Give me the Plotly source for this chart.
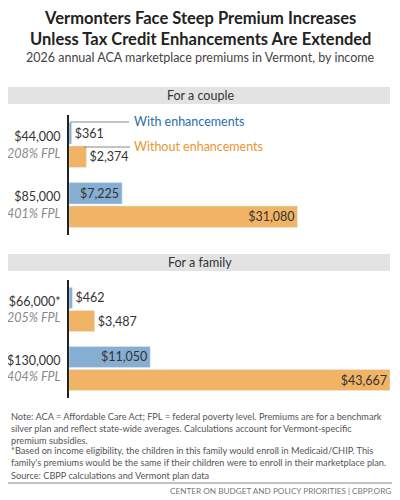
import plotly.graph_objects as go

# couple
couple_incomes = ["$44,000", "$85,000"]
couple_fpl = ["208% FPL", "401% FPL"]
couple_with = [361, 7225]
couple_without = [2374, 31080]
# family
family_incomes = ["$66,000*", "$130,000"]
family_fpl = ["205% FPL", "404% FPL"]
family_with = [462, 11050]
family_without = [3487, 43667]

BLUE = "#86aed3"
ORANGE = "#f1b366"
TXT = "#333333"
FONT = "Lato"

# page body has an 8px margin, so work in window pixels and convert
W, H, OFF = 392, 492, 8


def px(x):
    return (x - OFF) / W


def py(y):
    return 1 - (y - OFF) / H


def lbl(vals):
    return ["${:,}".format(v) for v in vals]


def pos(vals, cut=5000):
    return ["outside" if v < cut else "inside" for v in vals]


fig = go.Figure()
for ax, inc, w, wo in [("", couple_incomes, couple_with, couple_without),
                       ("2", family_incomes, family_with, family_without)]:
    for vals, col in [(w, BLUE), (wo, ORANGE)]:
        fig.add_trace(go.Bar(
            x=vals, y=inc, orientation="h", marker_color=col,
            text=lbl(vals), textposition=pos(vals), insidetextanchor="end",
            textfont=dict(size=12.5, color=TXT, family=FONT),
            cliponaxis=False, showlegend=False,
            xaxis="x" + ax, yaxis="y" + ax))


def ticks(inc, fpl):
    return [f"{a}<br><i><span style='color:#888888'>{b}</span></i>" for a, b in zip(inc, fpl)]


xa = dict(domain=[px(69), px(390)], range=[0, 43667], visible=False, fixedrange=True)
ya = dict(autorange="reversed", showline=True, linecolor="#222", linewidth=2,
          ticks="", tickfont=dict(size=12.5, color=TXT, family=FONT), ticklabelstandoff=4)
fig.update_layout(
    width=W, height=H, margin=dict(l=0, r=0, t=0, b=0),
    paper_bgcolor="white", plot_bgcolor="white",
    barmode="group", bargap=0.22, bargroupgap=0.08,
    xaxis=xa, xaxis2=dict(xa, anchor="y2"),
    yaxis=dict(ya, domain=[py(235), py(115)], anchor="x",
               tickvals=couple_incomes, ticktext=ticks(couple_incomes, couple_fpl)),
    yaxis2=dict(ya, domain=[py(398), py(280)], anchor="x2",
                tickvals=family_incomes, ticktext=ticks(family_incomes, family_fpl)),
    font=dict(family=FONT, color=TXT),
)


def hline(x0, x1, y, color="#888"):
    return dict(type="line", xref="paper", yref="paper", x0=px(x0), x1=px(x1), y0=py(y), y1=py(y),
                line=dict(color=color, width=1))


shapes = [
    dict(type="rect", xref="paper", yref="paper", x0=px(8), x1=px(390), y0=py(104), y1=py(87),
         fillcolor="#e3e3e3", line_width=0, layer="below"),
    dict(type="rect", xref="paper", yref="paper", x0=px(8), x1=px(390), y0=py(271), y1=py(254),
         fillcolor="#e3e3e3", line_width=0, layer="below"),
    hline(70, 129, 122),
    hline(84, 130, 147),
    hline(8, 400, 483),
]
fig.update_layout(shapes=shapes)

NOTE = dict(size=9.2, color="#555")
ann = [
    dict(x=px(200), y=py(6), text="<b>Vermonters Face Steep Premium Increases<br>Unless Tax Credit Enhancements Are Extended</b>",
         font=dict(size=16.5, color="#222"), align="center", yanchor="top"),
    dict(x=px(200), y=py(57), text="2026 annual ACA marketplace premiums in Vermont, by income",
         font=dict(size=12.5, color="#444"), yanchor="middle"),
    dict(x=px(200), y=py(95.5), text="For a couple", font=dict(size=12.5, color="#333"), yanchor="middle"),
    dict(x=px(200), y=py(262.5), text="For a family", font=dict(size=12.5, color="#333"), yanchor="middle"),
    dict(x=px(132), y=py(121), text="With enhancements", font=dict(size=12.5, color="#2d6ea8"),
         xanchor="left", yanchor="middle"),
    dict(x=px(132), y=py(147), text="Without enhancements", font=dict(size=12.5, color="#ea9535"),
         xanchor="left", yanchor="middle"),
    dict(x=px(9), y=py(409), xanchor="left", yanchor="top", align="left",
         text="Note: ACA = Affordable Care Act; FPL = federal poverty level. Premiums are for a benchmark<br>"
              "silver plan and reflect state-wide averages. Calculations account for Vermont-specific<br>"
              "premium subsidies.", font=NOTE),
    dict(x=px(9), y=py(443), xanchor="left", yanchor="top", align="left",
         text="*Based on income eligibility, the children in this family would enroll in Medicaid/CHIP. This<br>"
              "family's premiums would be the same if their children were to enroll in their marketplace plan.",
         font=NOTE),
    dict(x=px(9), y=py(468), xanchor="left", yanchor="top", align="left",
         text="Source: CBPP calculations and Vermont plan data", font=NOTE),
    dict(x=px(393), y=py(491), xanchor="right", yanchor="middle",
         text="CENTER ON BUDGET AND POLICY PRIORITIES | CBPP.ORG", font=dict(size=8.2, color="#777")),
]
for a in ann:
    a.update(xref="paper", yref="paper", showarrow=False)
fig.update_layout(annotations=ann)

fig.write_html("out.html")
